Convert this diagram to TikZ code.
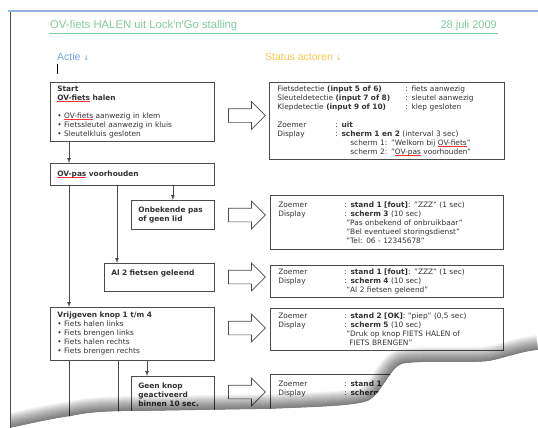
\documentclass[tikz,border=0pt]{standalone}
\usepackage{fontspec}
\setmainfont{DejaVu Sans}
\newfontfamily\headfont{Liberation Sans}
\usetikzlibrary{shapes.arrows}

\definecolor{headgreen}{RGB}{125,205,160}
\definecolor{actblue}{RGB}{110,165,225}
\definecolor{actyellow}{RGB}{245,200,80}
\definecolor{rulerblue}{RGB}{150,180,220}
\definecolor{boxgray}{RGB}{75,75,75}

% red spelling mark under a word
\newcommand\spel[1]{\setbox0\hbox{#1}\rlap{\textcolor{red!80}{\rule[-1.4pt]{\wd0}{0.5pt}}}\box0\relax}
\def\tearline{(10,428) .. controls (30,424) and (50,419) .. (72,416)
    .. controls (90,412) and (110,411) .. (150,411) -- (270,409)
    .. controls (320,407) and (355,406) .. (368,401)
    .. controls (382,394) and (390,368) .. (402,364)
    .. controls (420,360) and (470,364) .. (490,361)
    .. controls (505,358) and (520,352) .. (538,350)}

\begin{document}
\begin{tikzpicture}[x=1pt,y=-1pt,
    box/.style={draw=boxgray,line width=0.7pt,anchor=north west,align=left,
        inner xsep=7pt,inner ysep=3pt,text=black!80,font=\fontsize{7.4}{9}\selectfont},
    rbox/.style={box,inner xsep=8pt,text width=217pt},
    flow/.style={-latex,line width=0.7pt,draw=boxgray},
    hollow/.style={single arrow,draw=boxgray,line width=0.7pt,fill=white,
        minimum width=27pt,minimum height=37pt,single arrow head extend=7pt,
        inner xsep=0pt,inner ysep=6.5pt}]
    \useasboundingbox (0,0) rectangle (538,428);
    \fill[white] (0,0) rectangle (538,428);

    % header
    \draw[rulerblue,line width=1.5pt] (8,11) -- (538,11);
    \node[anchor=west,inner sep=1pt,text=headgreen,font=\headfont\fontsize{11.3}{13}\selectfont] (title) at (49,26) {OV-fiets HALEN uit Lock'n'Go stalling};
    \node[anchor=east,inner sep=1pt,text=headgreen,font=\headfont\fontsize{11}{13}\selectfont] (date) at (498,26) {28 juli 2009};
    \draw[headgreen,line width=0.8pt] ([yshift=-1pt]title.south west) -- ([yshift=-1pt]title.south west -| date.east);
    \node[anchor=west,inner sep=1pt,text=actblue,font=\headfont\fontsize{10.5}{12}\selectfont] (actie) at (56,57) {Actie {\normalfont\fontsize{7}{8}\selectfont ↓}};
    \node[anchor=west,inner sep=1pt,text=actyellow,font=\headfont\fontsize{10.5}{12}\selectfont] (status) at (264,57) {Status actoren {\normalfont\fontsize{7}{8}\selectfont ↓}};
    \draw[line width=1pt] (57,64) -- (57,74);

    % actie
    \node[box,text width=150pt,minimum height=59pt] (l1) at (50,82) {\textbf{Start}\\\textbf{\spel{OV-fiets} halen}\\[9pt]
        • \spel{OV-fiets} aanwezig in klem\\• Fietssleutel aanwezig in kluis\\• Sleutelkluis gesloten};
    \node[box,text width=150pt,minimum height=22pt] (l2) at (50,163) {\textbf{\spel{OV-pas} voorhouden}};
    \node[box,text width=69pt,minimum height=29pt] (l3) at (131,200) {\textbf{Onbekende pas}\\\textbf{of geen lid}};
    \node[box,text width=96pt,minimum height=28pt] (l4) at (104,263) {\textbf{Al 2 fietsen geleend}\\\mbox{}};
    \node[box,text width=150pt,minimum height=53pt] (l5) at (50,307) {\textbf{Vrijgeven knop 1 t/m 4}\\• Fiets halen links\\
        • Fiets brengen links\\• Fiets halen rechts\\• Fiets brengen rechts};
    \node[box,text width=69pt,minimum height=36pt] (l6) at (131,376) {\textbf{Geen knop}\\\textbf{geactiveerd}\\\textbf{binnen 10 sec.}};

    \coordinate (down1) at (69,420);
    \coordinate (down2) at (118,420);
    \draw[flow] ([xshift=19pt]l1.south west) -- ([xshift=19pt]l2.north west);
    \draw[flow] (l3.north |- l2.south) -- (l3.north);
    \draw[flow] ([xshift=13pt]l4.north west |- l2.south) -- ([xshift=13pt]l4.north west);
    \draw[flow] ([xshift=19pt]l2.south west) -- ([xshift=19pt]l5.north west);
    \draw[flow] ([xshift=16pt]l6.north west |- l5.south) -- ([xshift=16pt]l6.north west);
    \draw[line width=0.7pt,boxgray] ([xshift=19pt]l5.south west) -- (down1);
    \draw[line width=0.7pt,boxgray] ([xshift=68pt]l5.south west) -- (down2);

    % status actoren
    \node[box,inner xsep=8pt,text width=219pt,minimum height=77pt] (r1) at (269,82) {%
        \makebox[128pt][l]{Fietsdetectie \textbf{(input 5 of 6)}}: fiets aanwezig\\
        \makebox[128pt][l]{Sleuteldetectie \textbf{(input 7 of 8)}}: sleutel aanwezig\\
        \makebox[128pt][l]{Klepdetectie \textbf{(input 9 of 10)}}: klep gesloten\\[9pt]
        \makebox[58pt][l]{Zoemer}: \textbf{uit}\\
        \makebox[58pt][l]{Display}: \textbf{scherm 1 en 2} (interval 3 sec)\\
        \hspace*{73pt}scherm 1: "Welkom bij \spel{OV-fiets}"\\
        \hspace*{73pt}scherm 2: "\spel{OV-pas} voorhouden"};
    \node[rbox,minimum height=54pt] (r2) at (270,195) {%
        \makebox[66pt][l]{Zoemer}: \textbf{stand 1 [fout]}: "ZZZ" (1 sec)\\
        \makebox[66pt][l]{Display}: \textbf{scherm 3} (10 sec)\\
        \hspace*{68pt}"Pas onbekend of onbruikbaar"\\
        \hspace*{68pt}"Bel eventueel storingsdienst"\\
        \hspace*{68pt}"Tel: 06 - 12345678"};
    \node[rbox,minimum height=32pt] (r3) at (270,265) {%
        \makebox[66pt][l]{Zoemer}: \textbf{stand 1 [fout]}: "ZZZ" (1 sec)\\
        \makebox[66pt][l]{Display}: \textbf{scherm 4} (10 sec)\\
        \hspace*{68pt}"Al 2 fietsen geleend"};
    \node[rbox,minimum height=42pt] (r4) at (270,308) {%
        \makebox[66pt][l]{Zoemer}: \textbf{stand 2 [OK]}: "piep" (0,5 sec)\\
        \makebox[66pt][l]{Display}: \textbf{scherm 5} (10 sec)\\
        \hspace*{68pt}"Druk op knop FIETS HALEN of\\
        \hspace*{71pt}FIETS BRENGEN"};
    \node[rbox,minimum height=46pt] (r5) at (270,374) {%
        \makebox[66pt][l]{Zoemer}: \textbf{stand 1}\\
        \makebox[66pt][l]{Display}: \textbf{scherm}\\\mbox{}\\\mbox{}};

    \node[hollow] (a1) at (243.5,115.5) {};
    \node[hollow] (a2) at (243.5,215) {};
    \node[hollow] (a3) at (243.5,277) {};
    \node[hollow] (a4) at (243.5,328) {};
    \node[hollow] (a5) at (243.5,392) {};

    % torn edge
    \begin{scope}
        \clip \tearline -- (538,0) -- (10,0) -- cycle;
        \foreach \w in {2,4,...,30}
            \draw[line width=\w pt,black,opacity=0.045] \tearline;
    \end{scope}
    \fill[white] \tearline -- (538,428) -- cycle;
    \draw[black!70,line width=0.8pt] (10,12) -- (10,428);
\end{tikzpicture}
\end{document}
